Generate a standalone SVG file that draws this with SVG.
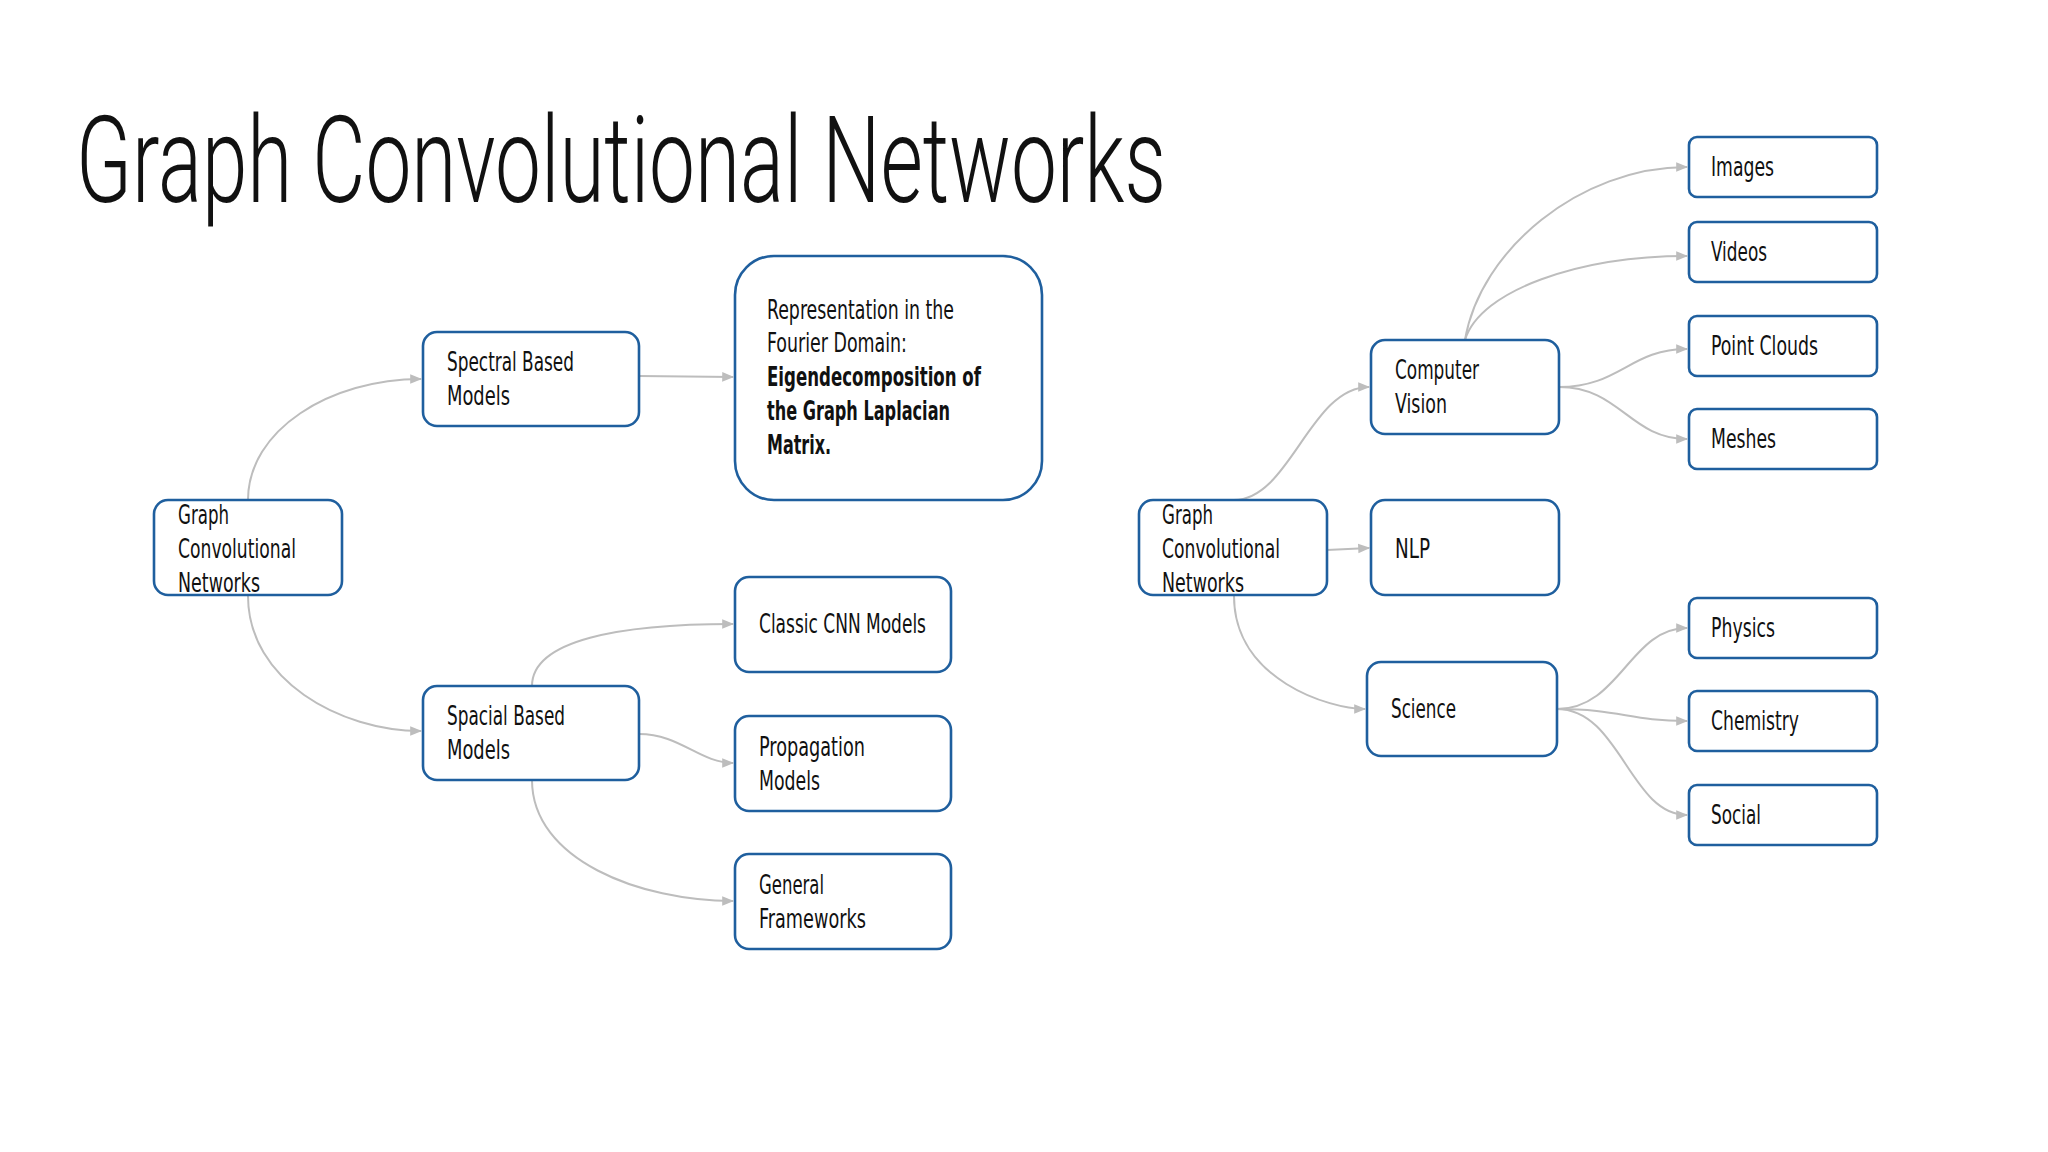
<svg xmlns="http://www.w3.org/2000/svg" width="2048" height="1152" viewBox="0 0 2048 1152">
<style>
text{font-family:"DejaVu Sans Condensed","Roboto","Liberation Sans",sans-serif;font-size:26px;fill:#111}
.t{font-family:"Roboto","Open Sans","Liberation Sans",sans-serif;font-size:120px;font-weight:300}
.b{font-weight:bold}
rect{fill:#fff;stroke:#1f5f9e;stroke-width:2.6}
.c path{fill:none;stroke:#bdbdbd;stroke-width:2;marker-end:url(#a)}
</style>
<defs><marker id="a" viewBox="0 0 10 10" refX="9" refY="5" markerWidth="6" markerHeight="6" orient="auto" markerUnits="strokeWidth"><path d="M0,1L10,5L0,9z" fill="#bdbdbd"/></marker></defs>
<rect x="0" y="0" width="2048" height="1152" style="fill:#fff;stroke:none"/>
<text class="t" x="76" y="202" textLength="1090" lengthAdjust="spacingAndGlyphs">Graph Convolutional Networks</text>
<g class="c">
<path d="M248,500C248,430 330,379 421,379"/>
<path d="M248,596C248,680 340,731 421,731"/>
<path d="M639,376L733,377"/>
<path d="M532,686C532,640 620,624 733,624"/>
<path d="M639,734C680,734 700,763 733,763"/>
<path d="M532,780C532,860 640,901 733,901"/>
<path d="M1234,500C1290,500 1310,387 1369,387"/>
<path d="M1327,550L1369,548"/>
<path d="M1234,596C1234,680 1330,709 1365,709"/>
<path d="M1465,340C1480,250 1580,167 1687,167"/>
<path d="M1465,340C1480,290 1580,256 1687,256"/>
<path d="M1559,387C1620,387 1630,349 1687,349"/>
<path d="M1559,387C1620,387 1630,439 1687,439"/>
<path d="M1557,709C1620,709 1630,628 1687,628"/>
<path d="M1557,709C1620,709 1630,721 1687,721"/>
<path d="M1557,709C1620,709 1630,815 1687,815"/>
</g>
<g id="gcn1"><rect x="154" y="500" width="188" height="95" rx="14"/><text x="178" y="524" textLength="51" lengthAdjust="spacingAndGlyphs">Graph</text><text x="178" y="558" textLength="118" lengthAdjust="spacingAndGlyphs">Convolutional</text><text x="178" y="592" textLength="82" lengthAdjust="spacingAndGlyphs">Networks</text></g>
<g id="spectral"><rect x="423" y="332" width="216" height="94" rx="14"/><text x="447" y="371" textLength="127" lengthAdjust="spacingAndGlyphs">Spectral Based</text><text x="447" y="405" textLength="63" lengthAdjust="spacingAndGlyphs">Models</text></g>
<g id="repr"><rect x="735" y="256" width="307" height="244" rx="39"/><text x="767" y="319" textLength="187" lengthAdjust="spacingAndGlyphs">Representation in the</text><text x="767" y="352" textLength="140" lengthAdjust="spacingAndGlyphs">Fourier Domain:</text><text class="b" x="767" y="386" textLength="214" lengthAdjust="spacingAndGlyphs">Eigendecomposition of</text><text class="b" x="767" y="420" textLength="183" lengthAdjust="spacingAndGlyphs">the Graph Laplacian</text><text class="b" x="767" y="454" textLength="64" lengthAdjust="spacingAndGlyphs">Matrix.</text></g>
<g id="classic"><rect x="735" y="577" width="216" height="95" rx="14"/><text x="759" y="633" textLength="167" lengthAdjust="spacingAndGlyphs">Classic CNN Models</text></g>
<g id="spacial"><rect x="423" y="686" width="216" height="94" rx="14"/><text x="447" y="725" textLength="118" lengthAdjust="spacingAndGlyphs">Spacial Based</text><text x="447" y="759" textLength="63" lengthAdjust="spacingAndGlyphs">Models</text></g>
<g id="propagation"><rect x="735" y="716" width="216" height="95" rx="14"/><text x="759" y="756" textLength="106" lengthAdjust="spacingAndGlyphs">Propagation</text><text x="759" y="790" textLength="61" lengthAdjust="spacingAndGlyphs">Models</text></g>
<g id="general"><rect x="735" y="854" width="216" height="95" rx="14"/><text x="759" y="894" textLength="65" lengthAdjust="spacingAndGlyphs">General</text><text x="759" y="928" textLength="107" lengthAdjust="spacingAndGlyphs">Frameworks</text></g>
<g id="gcn2"><rect x="1139" y="500" width="188" height="95" rx="14"/><text x="1162" y="524" textLength="51" lengthAdjust="spacingAndGlyphs">Graph</text><text x="1162" y="558" textLength="118" lengthAdjust="spacingAndGlyphs">Convolutional</text><text x="1162" y="592" textLength="82" lengthAdjust="spacingAndGlyphs">Networks</text></g>
<g id="cv"><rect x="1371" y="340" width="188" height="94" rx="14"/><text x="1395" y="379" textLength="84" lengthAdjust="spacingAndGlyphs">Computer</text><text x="1395" y="413" textLength="52" lengthAdjust="spacingAndGlyphs">Vision</text></g>
<g id="nlp"><rect x="1371" y="500" width="188" height="95" rx="14"/><text x="1395" y="558" textLength="35" lengthAdjust="spacingAndGlyphs">NLP</text></g>
<g id="science"><rect x="1367" y="662" width="190" height="94" rx="14"/><text x="1391" y="718" textLength="65" lengthAdjust="spacingAndGlyphs">Science</text></g>
<g id="images"><rect x="1689" y="137" width="188" height="60" rx="8"/><text x="1711" y="176" textLength="63" lengthAdjust="spacingAndGlyphs">Images</text></g>
<g id="videos"><rect x="1689" y="222" width="188" height="60" rx="8"/><text x="1711" y="261" textLength="56" lengthAdjust="spacingAndGlyphs">Videos</text></g>
<g id="pointclouds"><rect x="1689" y="316" width="188" height="60" rx="8"/><text x="1711" y="355" textLength="107" lengthAdjust="spacingAndGlyphs">Point Clouds</text></g>
<g id="meshes"><rect x="1689" y="409" width="188" height="60" rx="8"/><text x="1711" y="448" textLength="65" lengthAdjust="spacingAndGlyphs">Meshes</text></g>
<g id="physics"><rect x="1689" y="598" width="188" height="60" rx="8"/><text x="1711" y="637" textLength="64" lengthAdjust="spacingAndGlyphs">Physics</text></g>
<g id="chemistry"><rect x="1689" y="691" width="188" height="60" rx="8"/><text x="1711" y="730" textLength="88" lengthAdjust="spacingAndGlyphs">Chemistry</text></g>
<g id="social"><rect x="1689" y="785" width="188" height="60" rx="8"/><text x="1711" y="824" textLength="50" lengthAdjust="spacingAndGlyphs">Social</text></g>
</svg>
